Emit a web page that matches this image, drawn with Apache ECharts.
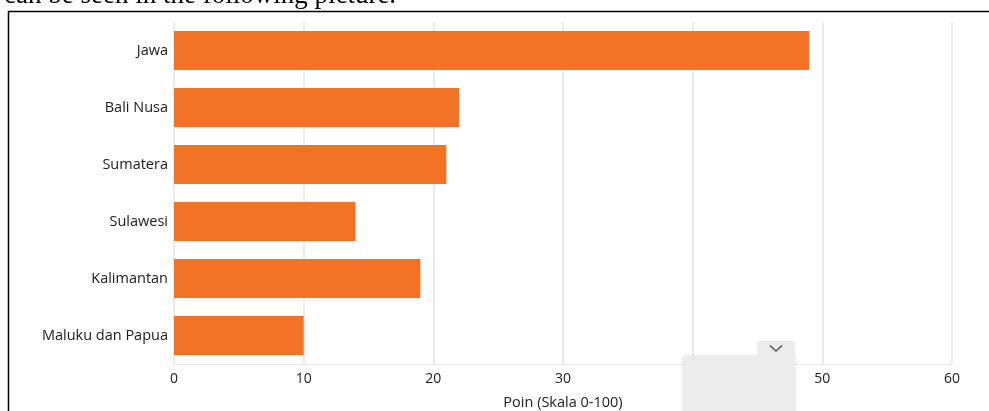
<!DOCTYPE html>
<html lang="en">

<head>
  <meta charset="UTF-8">
  <title>Poin per wilayah</title>
  <style media="screen">
    html, body { margin: 0; padding: 0; background: #fff; }
  </style>
</head>

<body>
  <div id="main" style="width:989px;height:411px;"></div>
</body>
<script src="https://cdn.jsdelivr.net/npm/echarts@6/dist/echarts.min.js"></script>

<script>
  // data
  var regions = ['Maluku dan Papua', 'Kalimantan', 'Sulawesi', 'Sumatera', 'Bali Nusa', 'Jawa'];
  var points = [10, 19, 14, 21, 22, 49];
  var xTicks = [0, 10, 20, 30, 40, 50, 60];

  var myChart = echarts.init(document.getElementById('main'));

  var font = 'Open Sans';

  myChart.setOption({
    backgroundColor: '#ffffff',
    animation: false,
    grid: {
      left: 174,
      right: 37,
      top: 22,
      bottom: 47,
      containLabel: false,
      outerBoundsMode: 'none'
    },
    xAxis: {
      type: 'value',
      min: xTicks[0],
      max: xTicks[xTicks.length - 1],
      interval: 10,
      name: 'Poin (Skala 0-100)',
      nameLocation: 'middle',
      nameGap: 31,
      nameTextStyle: { color: '#222', fontSize: 14.5, fontFamily: font },
      axisLine: { show: true, lineStyle: { color: '#e6e6e6' } },
      axisTick: { show: false },
      axisLabel: { color: '#222', fontSize: 14, fontFamily: font, margin: 8 },
      splitLine: { lineStyle: { color: '#e3e3e3', width: 1.5 } }
    },
    yAxis: {
      type: 'category',
      data: regions,
      axisLine: { show: false },
      axisTick: { show: false },
      axisLabel: { color: '#1a1a1a', fontSize: 14.5, fontFamily: font, margin: 6 }
    },
    series: [{
      type: 'bar',
      data: points,
      barCategoryGap: '32%',
      itemStyle: { color: '#f37326' }
    }],
    graphic: [
      {
        type: 'text',
        left: 4,
        top: -18,
        z: 100,
        style: {
          text: 'can be seen in the following picture.',
          font: '27px "Liberation Serif"',
          fill: '#000'
        }
      },
      {
        type: 'polyline',
        z: 100,
        shape: { points: [[8.5, 420], [8.5, 11.5], [995, 11.5]] },
        style: { stroke: '#000', lineWidth: 1.5, fill: null }
      },
      {
        type: 'rect',
        z: 100,
        shape: { x: 683, y: 356, width: 112, height: 60 },
        style: { fill: '#ececec', shadowBlur: 3, shadowColor: 'rgba(0,0,0,0.15)' }
      },
      {
        type: 'rect',
        z: 101,
        shape: { x: 757, y: 341, width: 38, height: 20, r: [2, 2, 0, 0] },
        style: { fill: '#ececec' }
      },
      {
        type: 'polyline',
        z: 102,
        shape: { points: [[770, 345.5], [776, 351], [782, 345.5]] },
        style: { stroke: '#555', lineWidth: 1.6, fill: null }
      }
    ]
  });
</script>

</html>
